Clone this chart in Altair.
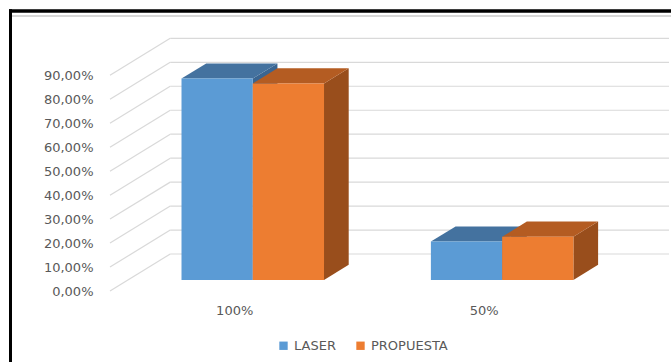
import altair as alt
import pandas as pd

# Categories, series and values (fractions)
CATEGORIES = ["100%", "50%"]
SERIES = ["LASER", "PROPUESTA"]
LASER = [0.84, 0.16]
PROPUESTA = [0.82, 0.18]
Y_TICKS = [0.0, 0.1, 0.2, 0.3, 0.4, 0.5, 0.6, 0.7, 0.8, 0.9]

FRONT = ["#5B9BD5", "#ED7D31"]
TOP = ["#44729F", "#B45C22"]
SIDE = ["#3A6591", "#994E1C"]
GRID = "#D9D9D9"
TEXT = "#595959"
FONT = "DejaVu Sans"

# 3D projection: a full step in depth moves DX category units right and DY up
DX = 0.2415
DY = 0.1544
F0 = 0.30    # depth of the bar front faces
T = 0.41     # bar thickness (fraction of depth)
W = 1 / 3.5  # bar width (gap width 150 %)

values = {"LASER": LASER, "PROPUESTA": PROPUESTA}

front_rows, top_rows, side_rows = [], [], []
for s_i, s in enumerate(SERIES):
    for c_i, cat in enumerate(CATEGORIES):
        v = values[s][c_i]
        x0 = c_i - W + s_i * W + F0 * DX
        x1 = x0 + W
        base = F0 * DY
        top = base + v
        dx, dy = T * DX, T * DY
        face = f"{c_i}-{s}"
        front_rows.append({"serie": s, "cat": cat, "x": x0, "x2": x1, "y": base, "y2": top})
        top_rows += [
            {"serie": s, "face": face, "y": top, "x": x0, "x2": x1},
            {"serie": s, "face": face, "y": top + dy, "x": x0 + dx, "x2": x1 + dx},
        ]
        side_rows += [
            {"serie": s, "face": face, "x": x1, "y": base, "y2": top},
            {"serie": s, "face": face, "x": x1 + dx, "y": base + dy, "y2": top + dy},
        ]

front_df = pd.DataFrame(front_rows)
top_df = pd.DataFrame(top_rows)
side_df = pd.DataFrame(side_rows)

n_cat = len(CATEGORIES)
wall_df = pd.DataFrame({
    "x": [-0.5 + DX] * len(Y_TICKS),
    "x2": [n_cat - 0.5 + DX] * len(Y_TICKS),
    "y": [v + DY for v in Y_TICKS],
})
diag_df = pd.DataFrame({
    "x": [-0.5] * len(Y_TICKS),
    "x2": [-0.5 + DX] * len(Y_TICKS),
    "y": Y_TICKS,
    "y2": [v + DY for v in Y_TICKS],
})
cat_df = pd.DataFrame({"x": list(range(n_cat)), "y": [-0.0835] * n_cat, "cat": CATEGORIES})

xs = alt.Scale(domain=[-0.5, n_cat - 0.5 + DX], nice=False, zero=False)
ys = alt.Scale(domain=[0, 1.06], nice=False, zero=False)

y_axis = alt.Axis(
    values=Y_TICKS, grid=False, ticks=False, domain=False, title=None,
    labelPadding=17, labelFontSize=13, labelColor=TEXT, labelFont=FONT,
    labelExpr="replace(format(datum.value, '.2%'), '.', ',')",
)


def X(field="x"):
    return alt.X(f"{field}:Q", scale=xs, axis=None, stack=None)


def Y(field="y"):
    return alt.Y(f"{field}:Q", scale=ys, axis=y_axis, stack=None)


diag = alt.Chart(diag_df).mark_rule(color=GRID, strokeWidth=1.2).encode(
    x=X(), x2="x2:Q", y=Y(), y2="y2:Q"
)
wall = alt.Chart(wall_df).mark_rule(color=GRID, strokeWidth=1.2).encode(
    x=X(), x2="x2:Q", y=Y()
)

color = alt.Color(
    "serie:N",
    scale=alt.Scale(domain=SERIES, range=FRONT),
    legend=alt.Legend(
        title=None, orient="none", legendX=167, legendY=302, direction="horizontal",
        symbolType="square", symbolSize=70, symbolStrokeWidth=0,
        labelFontSize=13, labelColor=TEXT, labelFont=FONT, labelOffset=4,
        columnPadding=18,
    ),
)

bar_layers = []
for s_i, s in enumerate(SERIES):
    side = alt.Chart(side_df).transform_filter(alt.datum.serie == s).mark_area(
        orient="vertical", color=SIDE[s_i]
    ).encode(x=X(), y=Y(), y2="y2:Q", detail="face:N")
    topf = alt.Chart(top_df).transform_filter(alt.datum.serie == s).mark_area(
        orient="horizontal", color=TOP[s_i]
    ).encode(y=Y(), x=X(), x2="x2:Q", detail="face:N")
    front = alt.Chart(front_df).transform_filter(alt.datum.serie == s).mark_rect().encode(
        x=X(), x2="x2:Q", y=Y(), y2="y2:Q", color=color
    )
    bar_layers += [side, topf, front]

cat_labels = alt.Chart(cat_df).mark_text(
    fontSize=13, color=TEXT, font=FONT, align="center", baseline="middle"
).encode(x=X(), y=Y(), text="cat:N")

# page frame: thick black border at top and left, plus the light row line
frame_top = alt.Chart(cat_df).mark_rule(color="black", strokeWidth=3).encode(
    x=alt.value(-101), x2=alt.value(561), y=alt.value(-26)
)
frame_left = alt.Chart(cat_df).mark_rule(color="black", strokeWidth=3).encode(
    x=alt.value(-99.5), y=alt.value(-27.5), y2=alt.value(325)
)
row_line = alt.Chart(cat_df).mark_rule(color="#D4D4D4", strokeWidth=1.5).encode(
    x=alt.value(-98), x2=alt.value(561), y=alt.value(-21)
)

chart = alt.layer(
    diag, wall, *bar_layers, cat_labels, frame_top, frame_left, row_line
).properties(
    width=559, height=254,
    autosize=alt.AutoSizeParams(type="none"),
    padding={"left": 110, "top": 37, "right": 2, "bottom": 71},
).configure_view(stroke=None)

chart.save("out.html", embed_options={"renderer": "svg", "actions": False})
